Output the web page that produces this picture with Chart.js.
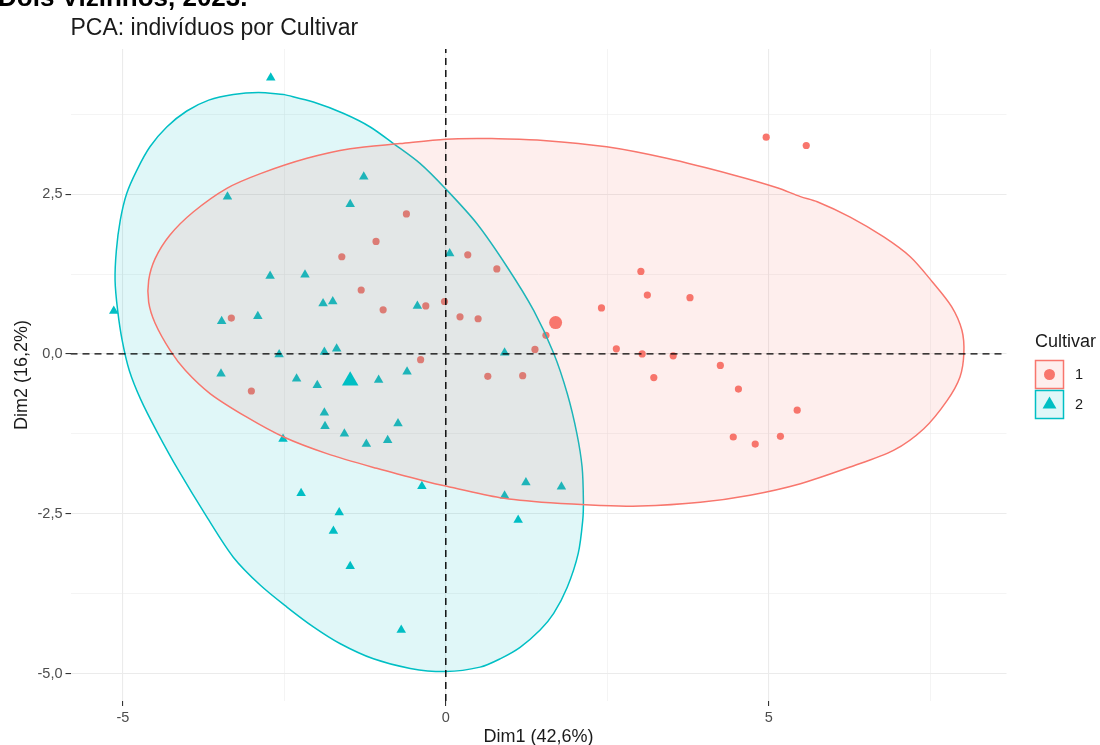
<!DOCTYPE html>
<html>
<head>
<meta charset="utf-8">
<script src="https://cdn.jsdelivr.net/npm/chart.js@4/dist/chart.umd.min.js"></script>
<style>
  html, body { margin: 0; padding: 0; background: #ffffff; }
  #wrap { width: 1100px; height: 745px; position: relative; }
</style>
</head>
<body>
<div id="wrap"><canvas id="c" width="1100" height="745"></canvas></div>
<script>
// ---------------- data ----------------
const categories = ['1', '2'];
const headerText = 'Dois Vizinhos, 2023.';
const titleText = 'PCA: indivíduos por Cultivar';
const xTitle = 'Dim1 (42,6%)';
const yTitle = 'Dim2 (16,2%)';
const legendTitle = 'Cultivar';

// Cultivar 1 individuals (circles)
const c1X = [-0.61,-1.08,-1.61,-1.31,-0.97,-3.32,-0.31,-0.02,-0.39,4.96,5.58,0.34,0.79,3.02,3.12,3.78,2.41,0.22,0.50,1.55,1.38,2.64,3.04,3.52,4.25,4.53,5.44,4.45,4.79,5.18,3.22,0.65,1.19,-3.01];
const c1Y = [2.19,1.76,1.52,1.00,0.69,0.56,0.75,0.82,-0.09,3.39,3.26,1.55,1.33,1.29,0.92,0.88,0.72,0.58,0.55,0.29,0.07,0.08,0.00,-0.03,-0.18,-0.55,-0.88,-1.30,-1.41,-1.29,-0.37,-0.35,-0.34,-0.58];
// Cultivar 2 individuals (triangles)
const c2X = [-2.71,-5.14,-3.38,-1.27,-1.48,0.06,-2.72,-2.18,-1.90,-1.75,-2.91,-3.47,-0.44,-2.58,-1.88,-1.69,0.91,-3.48,-2.31,-1.99,-1.04,-0.60,-1.88,-1.87,-1.57,-1.23,-0.90,-0.74,-2.52,-0.37,-2.24,-1.65,-1.74,-1.48,-0.69,0.91,1.24,1.79,1.12];
const c2Y = [4.32,0.67,2.46,2.77,2.34,1.57,1.22,1.24,0.79,0.82,0.59,0.51,0.75,-0.01,0.03,0.08,0.02,-0.31,-0.39,-0.49,-0.41,-0.28,-0.92,-1.13,-1.25,-1.41,-1.35,-1.09,-1.33,-2.07,-2.18,-2.48,-2.77,-3.32,-4.32,-2.22,-2.01,-2.08,-2.60];
// group centroids
const centroidX = [1.70, -1.48];
const centroidY = [0.49, -0.42];

// confidence ellipse outlines
const ell1X = [0.71,0.00,-0.71,-1.48,-2.15,-2.87,-3.39,-3.91,-4.27,-4.50,-4.60,-4.60,-4.50,-4.27,-4.03,-3.65,-3.08,-2.51,-1.84,-1.07,-0.29,-0.04,0.84,1.62,2.39,3.01,3.94,4.71,5.49,6.26,6.93,7.40,7.76,7.96,8.02,7.99,7.83,7.53,7.19,6.78,6.26,5.75,5.49,5.13,4.45,3.42,2.49,1.51,0.71];
const ell1Y = [3.37,3.36,3.29,3.21,3.06,2.82,2.59,2.22,1.86,1.49,1.15,0.81,0.48,0.06,-0.26,-0.62,-0.99,-1.30,-1.56,-1.79,-2.00,-2.06,-2.25,-2.33,-2.37,-2.38,-2.32,-2.21,-2.03,-1.77,-1.51,-1.17,-0.73,-0.36,0.01,0.37,0.74,1.13,1.52,1.83,2.14,2.38,2.46,2.60,2.80,3.06,3.24,3.34,3.37];
const ell2X = [-2.51,-2.90,-3.29,-3.67,-4.01,-4.32,-4.58,-4.78,-4.94,-5.04,-5.10,-5.12,-5.08,-5.01,-4.90,-4.72,-4.47,-4.14,-3.70,-3.29,-2.87,-2.46,-2.05,-1.64,-1.12,-0.55,0.00,0.53,0.84,1.15,1.46,1.67,1.88,2.05,2.12,2.13,2.11,2.03,1.88,1.67,1.36,0.95,0.48,0.00,-0.40,-0.81,-1.17,-1.58,-2.05,-2.51];
const ell2Y = [4.06,4.09,4.06,3.97,3.80,3.55,3.24,2.88,2.51,2.09,1.62,1.15,0.68,0.21,-0.26,-0.72,-1.22,-1.82,-2.55,-3.18,-3.62,-3.96,-4.27,-4.53,-4.77,-4.92,-4.97,-4.90,-4.77,-4.59,-4.32,-4.06,-3.65,-3.12,-2.60,-2.29,-1.77,-1.25,-0.62,0.01,0.68,1.36,2.04,2.58,2.98,3.29,3.55,3.76,3.94,4.06];

// axes
const xRange = [-5.81, 8.68];
const yRange = [-5.43, 4.77];
const xGridValues = [-5, -2.5, 0, 2.5, 5, 7.5];
const xTickValues = [-5, 0, 5];
const xTickLabels = ['-5', '0', '5'];
const yGridValues = [-5, -3.75, -2.5, -1.25, 0, 1.25, 2.5, 3.75];
const yTickValues = [-5, -2.5, 0, 2.5];
const yTickLabels = ['-5,0', '-2,5', '0,0', '2,5'];

// ---------------- styling ----------------
const RED = '#F8766D', CYAN = '#00BFC4';
const RED_FILL = 'rgba(248,118,109,0.12)', CYAN_FILL = 'rgba(0,191,196,0.12)';
const FONT = '"Liberation Sans", Arial, Helvetica, sans-serif';

const zip = (xs, ys) => xs.map((x, i) => ({ x: x, y: ys[i] }));
const isMajor = (list, v) => list.some(m => Math.abs(m - v) < 1e-9);
const labelFor = (vals, labels, v) => { const i = vals.findIndex(m => Math.abs(m - v) < 1e-9); return i >= 0 ? labels[i] : ''; };

const overlay = {
  id: 'overlay',
  afterDraw(chart) {
    const ctx = chart.ctx, a = chart.chartArea;
    ctx.save();
    // header (clipped at top)
    ctx.fillStyle = '#000';
    ctx.font = 'bold 26px ' + FONT;
    ctx.textAlign = 'left'; ctx.textBaseline = 'alphabetic';
    ctx.fillText(headerText, -2, 6);
    // title
    ctx.fillStyle = '#1a1a1a';
    ctx.font = '23px ' + FONT;
    ctx.fillText(titleText, a.left, 35);
    // axis titles
    ctx.font = '18px ' + FONT;
    ctx.textAlign = 'center'; ctx.textBaseline = 'middle';
    ctx.fillText(xTitle, (a.left + a.right) / 2, 737);
    ctx.save();
    ctx.translate(22, (a.top + a.bottom) / 2);
    ctx.rotate(-Math.PI / 2);
    ctx.fillText(yTitle, 0, 0);
    ctx.restore();
    // legend
    const lx = 1035;
    ctx.textAlign = 'left';
    ctx.fillText(legendTitle, lx, 342);
    const keys = [
      { y: 360, stroke: RED, fill: RED_FILL, shape: 'circle' },
      { y: 390, stroke: CYAN, fill: CYAN_FILL, shape: 'triangle' }
    ];
    keys.forEach((k, i) => {
      ctx.fillStyle = k.fill;
      ctx.fillRect(lx + 0.5, k.y + 0.5, 28, 28);
      ctx.strokeStyle = k.stroke; ctx.lineWidth = 1.5;
      ctx.strokeRect(lx + 0.5, k.y + 0.5, 28, 28);
      const cx = lx + 14.5, cy = k.y + 14.5;
      ctx.fillStyle = k.stroke;
      ctx.beginPath();
      if (k.shape === 'circle') {
        ctx.arc(cx, cy, 5.5, 0, Math.PI * 2);
      } else {
        const r = 8;
        ctx.moveTo(cx, cy - r);
        ctx.lineTo(cx + r * Math.sin(2 * Math.PI / 3), cy + r / 2);
        ctx.lineTo(cx - r * Math.sin(2 * Math.PI / 3), cy + r / 2);
        ctx.closePath();
      }
      ctx.fill();
      ctx.fillStyle = '#1a1a1a';
      ctx.font = '14.5px ' + FONT;
      ctx.textBaseline = 'middle';
      ctx.fillText(categories[i], lx + 40, cy);
    });
    ctx.restore();
  }
};

const gridOpts = (majors) => ({
  color: '#ebebeb',
  lineWidth: (c) => (c.tick && isMajor(majors, c.tick.value)) ? 1.1 : 0.55,
  drawTicks: true,
  tickLength: 5,
  tickWidth: 1.1,
  tickColor: (c) => (c.tick && isMajor(majors, c.tick.value)) ? '#333333' : 'rgba(0,0,0,0)'
});

new Chart(document.getElementById('c'), {
  type: 'scatter',
  data: {
    datasets: [
      { label: 'vline', type: 'line', data: zip([0, 0], yRange), borderColor: '#000', borderWidth: 1.4, borderDash: [7, 5], pointRadius: 0, fill: false, order: 0 },
      { label: 'hline', type: 'line', data: zip(xRange, [0, 0]), borderColor: '#000', borderWidth: 1.4, borderDash: [7, 5], pointRadius: 0, fill: false, order: 0 },
      { label: 'centroid 1', data: zip([centroidX[0]], [centroidY[0]]), pointStyle: 'circle', pointRadius: 6.5, backgroundColor: RED, borderWidth: 0, order: 1 },
      { label: 'centroid 2', data: zip([centroidX[1]], [centroidY[1]]), pointStyle: 'triangle', pointRadius: 9.5, backgroundColor: CYAN, borderWidth: 0, order: 1 },
      { label: 'ellipse 1', type: 'line', data: zip(ell1X, ell1Y), borderColor: RED, backgroundColor: RED_FILL, borderWidth: 1.5, pointRadius: 0, tension: 0.3, fill: 'shape', order: 2 },
      { label: 'ellipse 2', type: 'line', data: zip(ell2X, ell2Y), borderColor: CYAN, backgroundColor: CYAN_FILL, borderWidth: 1.5, pointRadius: 0, tension: 0.3, fill: 'shape', order: 2 },
      { label: categories[0], data: zip(c1X, c1Y), pointStyle: 'circle', pointRadius: 3.6, backgroundColor: RED, borderWidth: 0, order: 3 },
      { label: categories[1], data: zip(c2X, c2Y), pointStyle: 'triangle', pointRadius: 5.5, backgroundColor: CYAN, borderWidth: 0, order: 3 }
    ]
  },
  options: {
    responsive: false,
    animation: false,
    events: [],
    layout: { padding: { left: 0, top: 49, right: 93.5, bottom: 0 } },
    plugins: { legend: { display: false }, tooltip: { enabled: false }, title: { display: false } },
    scales: {
      x: {
        type: 'linear', min: xRange[0], max: xRange[1],
        border: { display: false },
        grid: gridOpts(xTickValues),
        afterBuildTicks: (s) => { s.ticks = xGridValues.map(v => ({ value: v })); },
        afterFit: (s) => { s.height = 44; },
        ticks: {
          autoSkip: false, maxRotation: 0, padding: 3,
          color: '#4d4d4d', font: { family: FONT, size: 14.5 },
          callback: (v) => labelFor(xTickValues, xTickLabels, v)
        }
      },
      y: {
        type: 'linear', min: yRange[0], max: yRange[1],
        border: { display: false },
        grid: gridOpts(yTickValues),
        afterBuildTicks: (s) => { s.ticks = yGridValues.map(v => ({ value: v })); },
        afterFit: (s) => { s.width = 70.5; },
        ticks: {
          autoSkip: false, padding: 3,
          color: '#4d4d4d', font: { family: FONT, size: 14.5 },
          callback: (v) => labelFor(yTickValues, yTickLabels, v)
        }
      }
    }
  },
  plugins: [overlay]
});
</script>
</body>
</html>
